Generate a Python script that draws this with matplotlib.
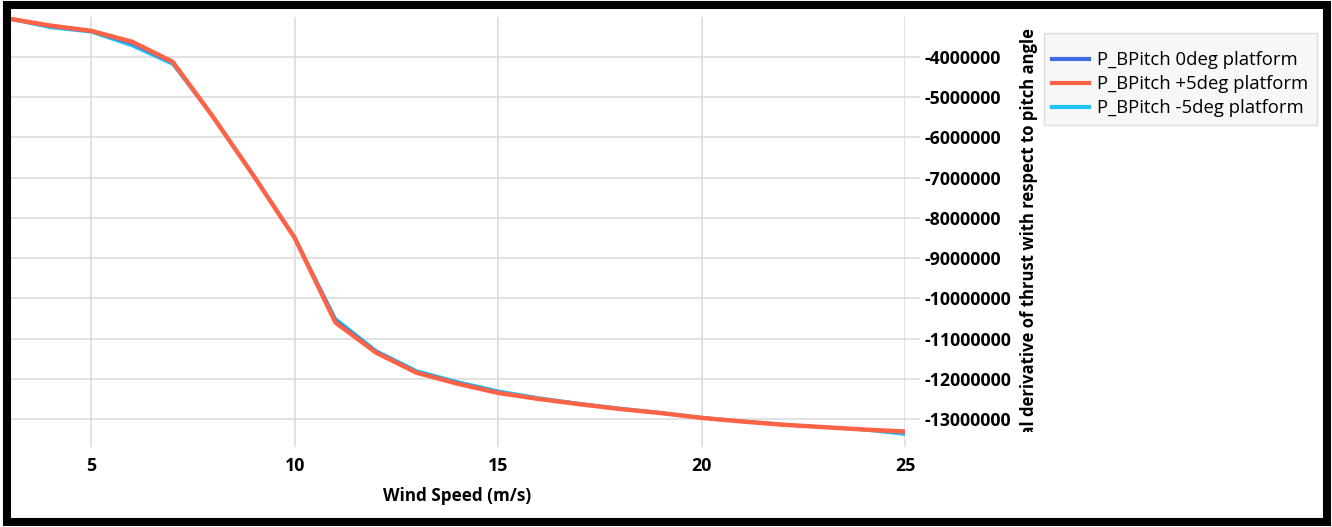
import matplotlib
matplotlib.use("Agg")
import matplotlib.pyplot as plt
from matplotlib.patches import Rectangle
from matplotlib.transforms import Bbox, TransformedBbox

# wind speed (m/s)
wind = [3, 4, 5, 6, 7, 8, 9, 10, 11, 12, 13, 14, 15, 16, 17, 18, 19, 20, 21, 22, 23, 24, 25]

# partial derivative of thrust wrt pitch angle
p_0deg = [-3.05e6, -3.24e6, -3.36e6, -3.66e6, -4.14e6, -5.5e6, -6.97e6, -8.5e6, -10.55e6, -11.32e6,
          -11.83e6, -12.1e6, -12.33e6, -12.5e6, -12.63e6, -12.75e6, -12.85e6, -12.97e6, -13.06e6,
          -13.14e6, -13.2e6, -13.26e6, -13.33e6]
p_p5deg = [-3.05e6, -3.22e6, -3.35e6, -3.62e6, -4.12e6, -5.5e6, -6.97e6, -8.5e6, -10.6e6, -11.35e6,
           -11.85e6, -12.12e6, -12.35e6, -12.5e6, -12.63e6, -12.75e6, -12.85e6, -12.97e6, -13.06e6,
           -13.14e6, -13.2e6, -13.26e6, -13.31e6]
p_m5deg = [-3.06e6, -3.27e6, -3.38e6, -3.72e6, -4.18e6, -5.5e6, -6.97e6, -8.48e6, -10.5e6, -11.3e6,
           -11.8e6, -12.07e6, -12.3e6, -12.47e6, -12.61e6, -12.73e6, -12.84e6, -12.96e6, -13.05e6,
           -13.13e6, -13.2e6, -13.27e6, -13.38e6]

labels = ["P_BPitch 0deg platform", "P_BPitch +5deg platform", "P_BPitch -5deg platform"]
xticks = [5, 10, 15, 20, 25]
yticks = [-4e6, -5e6, -6e6, -7e6, -8e6, -9e6, -10e6, -11e6, -12e6, -13e6]

W, H = 1332, 527
plt.rcParams['font.family'] = ['Open Sans', 'DejaVu Sans']
fig = plt.figure(figsize=(W / 100, H / 100), dpi=100)
fig.patch.set_facecolor('white')

ax = fig.add_axes([10 / W, 1 - 440 / H, 895 / W, 423 / H])
l0, = ax.plot(wind, p_0deg, color='#3f6be0', lw=2.2, zorder=3, label=labels[0])
l1, = ax.plot(wind, p_p5deg, color='#ff6347', lw=3.2, zorder=4, label=labels[1])
l2, = ax.plot(wind, p_m5deg, color='#1ec0f5', lw=2.2, zorder=2, label=labels[2])

ax.set_xlim(3, 25)
ax.set_ylim(-13.52e6, -3.005e6)
ax.set_xticks(xticks)
ax.set_yticks(yticks)
ax.set_yticklabels([str(int(v)) for v in yticks])
ax.yaxis.tick_right()
ax.grid(True, color='#dcdcdc', lw=1.2)
ax.set_axisbelow(True)
for s in ax.spines.values():
    s.set_visible(False)
ax.tick_params(axis='y', length=11, width=1.2, color='#dcdcdc', pad=3,
               labelsize=12.8)
ax.tick_params(axis='x', length=5, width=1.2, color='#dcdcdc', pad=7,
               labelsize=12.8)
for t in ax.get_xticklabels() + ax.get_yticklabels():
    t.set_fontweight('bold')

fig.text(457.5 / W, 1 - 496 / H, "Wind Speed (m/s)", ha='center', va='center',
         fontsize=12.3, fontweight='bold')

# y label, clipped at its start like the original
yl = fig.text(1029 / W, 1 - 28 / H, "Partial derivative of thrust with respect to pitch angle",
              rotation=90, ha='center', va='top', fontsize=12, fontweight='bold')
yl.set_clip_box(TransformedBbox(Bbox([[0, 1 - 432 / H], [1, 1]]), fig.transFigure))
yl.set_clip_on(True)

# legend box drawn separately (extra padding on top in the original)
fig.patches.append(Rectangle((1044 / W, 1 - 125 / H), 273 / W, 92 / H, transform=fig.transFigure,
                             facecolor='#f7f7f7', edgecolor='#dddddd', lw=1, zorder=1))
leg = fig.legend(handles=[l0, l1, l2], loc='upper left',
                 bbox_to_anchor=(1044 / W, 1 - 43 / H), borderaxespad=0,
                 fontsize=13.3, frameon=False, handlelength=2.0,
                 handletextpad=0.4, borderpad=0.45, labelspacing=0.32)
leg.set_zorder(5)
for line in leg.get_lines():
    line.set_linewidth(3)

# black frame around the figure
fig.patches.append(Rectangle((7 / W, 5 / H), 1320 / W, 517 / H, transform=fig.transFigure,
                             fill=False, edgecolor='black', lw=5.8, zorder=10))

fig.savefig("out.png", dpi=100)
